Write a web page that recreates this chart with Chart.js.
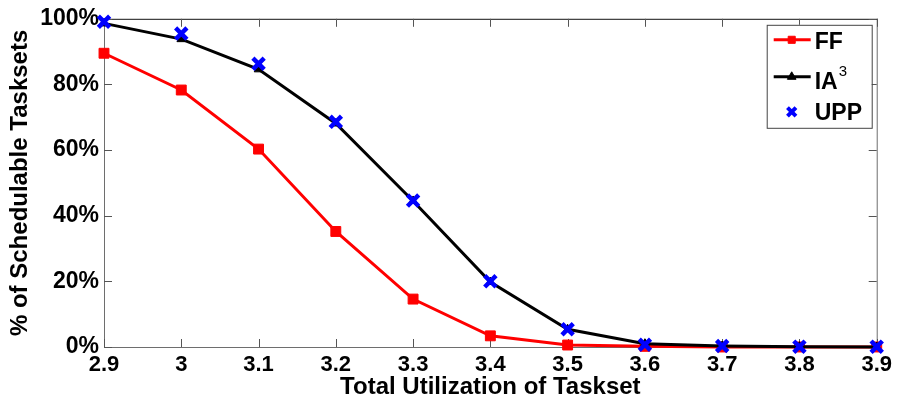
<!DOCTYPE html>
<html>
<head>
<meta charset="utf-8">
<script src="https://cdn.jsdelivr.net/npm/chart.js@4/dist/chart.umd.min.js"></script>
<style>
  html, body { margin: 0; padding: 0; background: #fff; }
  #wrap { width: 897px; height: 405px; }
</style>
</head>
<body>
<div id="wrap"><canvas id="chart" width="897" height="405"></canvas></div>
<script>
// Total utilization of the taskset (x values)
const utilization = [2.9, 3.0, 3.1, 3.2, 3.3, 3.4, 3.5, 3.6, 3.7, 3.8, 3.9];
// Percentage of schedulable tasksets per partitioning scheme
const ffPct  = [89.5, 78.3, 60.3, 35.2, 14.6, 3.4, 0.6, 0.2, 0.0, 0.0, 0.0];
const ia3Pct = [98.6, 93.8, 84.6, 68.1, 44.5, 19.8, 5.4, 1.0, 0.3, 0.1, 0.0];
const uppPct = [99.1, 95.5, 86.3, 68.6, 44.6, 20.0, 5.4, 0.7, 0.3, 0.1, 0.1];
// Axis tick labels
const xTickLabels = ['2.9', '3', '3.1', '3.2', '3.3', '3.4', '3.5', '3.6', '3.7', '3.8', '3.9'];
const yTickLabels = ['0%', '20%', '40%', '60%', '80%', '100%'];

const FONT = "'Liberation Sans', Arial, sans-serif";

const toPoints = (ys) => utilization.map((x, i) => ({ x, y: ys[i] }));

// Axes box with inward tick marks
const boxPlugin = {
  id: 'axesBox',
  beforeDatasetsDraw(chart) {
    const { ctx, chartArea: a, scales: { x, y } } = chart;
    ctx.save();
    ctx.lineWidth = 1;
    ctx.strokeStyle = '#6e6e6e';
    ctx.beginPath();
    ctx.moveTo(a.left + 0.5, a.top);
    ctx.lineTo(a.left + 0.5, a.bottom + 0.5);
    ctx.lineTo(a.right + 0.5, a.bottom + 0.5);
    ctx.lineTo(a.right + 0.5, a.top);
    ctx.stroke();
    ctx.strokeStyle = '#111';
    ctx.beginPath();
    ctx.moveTo(a.left, a.top + 0.5);
    ctx.lineTo(a.right + 1, a.top + 0.5);
    ctx.stroke();
    const tl = 8;
    ctx.strokeStyle = '#555';
    ctx.beginPath();
    utilization.forEach((v) => {
      const px = Math.round(x.getPixelForValue(v)) + 0.5;
      ctx.moveTo(px, a.bottom);
      ctx.lineTo(px, a.bottom - tl);
      ctx.moveTo(px, a.top);
      ctx.lineTo(px, a.top + tl);
    });
    [0, 20, 40, 60, 80, 100].forEach((v) => {
      const py = Math.round(y.getPixelForValue(v)) + 0.5;
      ctx.moveTo(a.left, py);
      ctx.lineTo(a.left + tl, py);
      ctx.moveTo(a.right, py);
      ctx.lineTo(a.right - tl, py);
    });
    ctx.stroke();
    ctx.restore();
  }
};

// Legend box in the upper-right corner of the axes
const legendPlugin = {
  id: 'innerLegend',
  afterDraw(chart) {
    const { ctx, chartArea: a } = chart;
    const ds = chart.data.datasets;
    const bx = a.right - 110, by = a.top + 6, bw = 105, bh = 103;
    ctx.save();
    ctx.fillStyle = '#fff';
    ctx.fillRect(bx, by, bw, bh);
    ctx.strokeStyle = '#444';
    ctx.lineWidth = 1;
    ctx.strokeRect(bx + 0.5, by + 0.5, bw, bh);

    const rows = [by + 15, by + 52, by + 87];
    const lx0 = bx + 7, lx1 = bx + 44, mx = bx + 25, tx = bx + 48;
    ds.forEach((d, r) => {
      const yy = rows[r];
      if (d.showLine !== false) {
        ctx.strokeStyle = d.borderColor;
        ctx.lineWidth = d.borderWidth;
        ctx.beginPath();
        ctx.moveTo(lx0, yy);
        ctx.lineTo(lx1, yy);
        ctx.stroke();
      }
      ctx.fillStyle = d.pointBackgroundColor;
      ctx.strokeStyle = d.pointBorderColor;
      ctx.lineWidth = d.legendBorderWidth;
      Chart.helpers.drawPoint(ctx, {
        pointStyle: d.pointStyle,
        radius: d.legendRadius,
        borderWidth: d.legendBorderWidth,
        rotation: 0
      }, mx, yy);
    });

    ctx.fillStyle = '#000';
    ctx.textBaseline = 'middle';
    ctx.textAlign = 'left';
    ctx.font = 'bold 23px ' + FONT;
    ctx.fillText('FF', tx, rows[0] + 3);
    ctx.fillText('IA', tx, rows[1] + 6);
    const iaw = ctx.measureText('IA').width;
    ctx.font = '15px ' + FONT;
    ctx.fillText('3', tx + iaw + 1, rows[1] - 5);
    ctx.font = 'bold 23px ' + FONT;
    ctx.fillText('UPP', tx, rows[2] + 2);
    ctx.restore();
  }
};

new Chart(document.getElementById('chart'), {
  type: 'scatter',
  data: {
    datasets: [
      {
        label: 'FF',
        data: toPoints(ffPct),
        showLine: true,
        borderColor: '#ff0000',
        backgroundColor: '#ff0000',
        borderWidth: 3,
        pointStyle: 'rect',
        pointRadius: 7,
        legendRadius: 5,
        legendBorderWidth: 1,
        pointBackgroundColor: '#ff0000',
        pointBorderColor: '#ff0000',
        pointBorderWidth: 1,
        order: 2,
        clip: false
      },
      {
        label: 'IA3',
        data: toPoints(ia3Pct),
        showLine: true,
        borderColor: '#000000',
        backgroundColor: '#000000',
        borderWidth: 3,
        pointStyle: 'triangle',
        pointRadius: 5,
        legendRadius: 5,
        legendBorderWidth: 1,
        pointBackgroundColor: '#000000',
        pointBorderColor: '#000000',
        pointBorderWidth: 1,
        order: 1,
        clip: false
      },
      {
        label: 'UPP',
        data: toPoints(uppPct),
        showLine: false,
        borderColor: '#0000ff',
        backgroundColor: '#0000ff',
        pointStyle: 'crossRot',
        pointRadius: 8,
        legendRadius: 6,
        legendBorderWidth: 4,
        pointBackgroundColor: '#0000ff',
        pointBorderColor: '#0000ff',
        pointBorderWidth: 4.5,
        order: 0,
        clip: false
      }
    ]
  },
  options: {
    responsive: false,
    animation: false,
    events: [],
    layout: { padding: { top: 12, right: 17, left: 0, bottom: 0 } },
    plugins: { legend: { display: false }, tooltip: { enabled: false } },
    scales: {
      x: {
        type: 'linear',
        min: 2.9,
        max: 3.9,
        afterFit: (s) => { s.height = 58; },
        afterBuildTicks: (s) => { s.ticks = utilization.map((v) => ({ value: v })); },
        grid: { display: false, drawTicks: false },
        border: { display: false },
        ticks: {
          padding: 5,
          color: '#000',
          maxRotation: 0,
          autoSkip: false,
          font: { family: FONT, size: 22, weight: 'bold' },
          callback: (v, i) => xTickLabels[i]
        },
        title: {
          display: true,
          text: 'Total Utilization of Taskset',
          color: '#000',
          padding: { top: 0, bottom: 3 },
          font: { family: FONT, size: 24, weight: 'bold' }
        }
      },
      y: {
        type: 'linear',
        min: 0,
        max: 100,
        afterFit: (s) => { s.width = 104; },
        afterBuildTicks: (s) => { s.ticks = [0, 20, 40, 60, 80, 100].map((v) => ({ value: v })); },
        grid: { display: false, drawTicks: false },
        border: { display: false },
        ticks: {
          padding: 5,
          color: '#000',
          autoSkip: false,
          font: { family: FONT, size: 23, weight: 'bold' },
          callback: (v, i) => yTickLabels[i]
        },
        title: {
          display: true,
          text: '% of Schedulable Tasksets',
          color: '#000',
          padding: { top: 6, bottom: 0 },
          font: { family: FONT, size: 24, weight: 'bold' }
        }
      }
    }
  },
  plugins: [boxPlugin, legendPlugin]
});
</script>
</body>
</html>
